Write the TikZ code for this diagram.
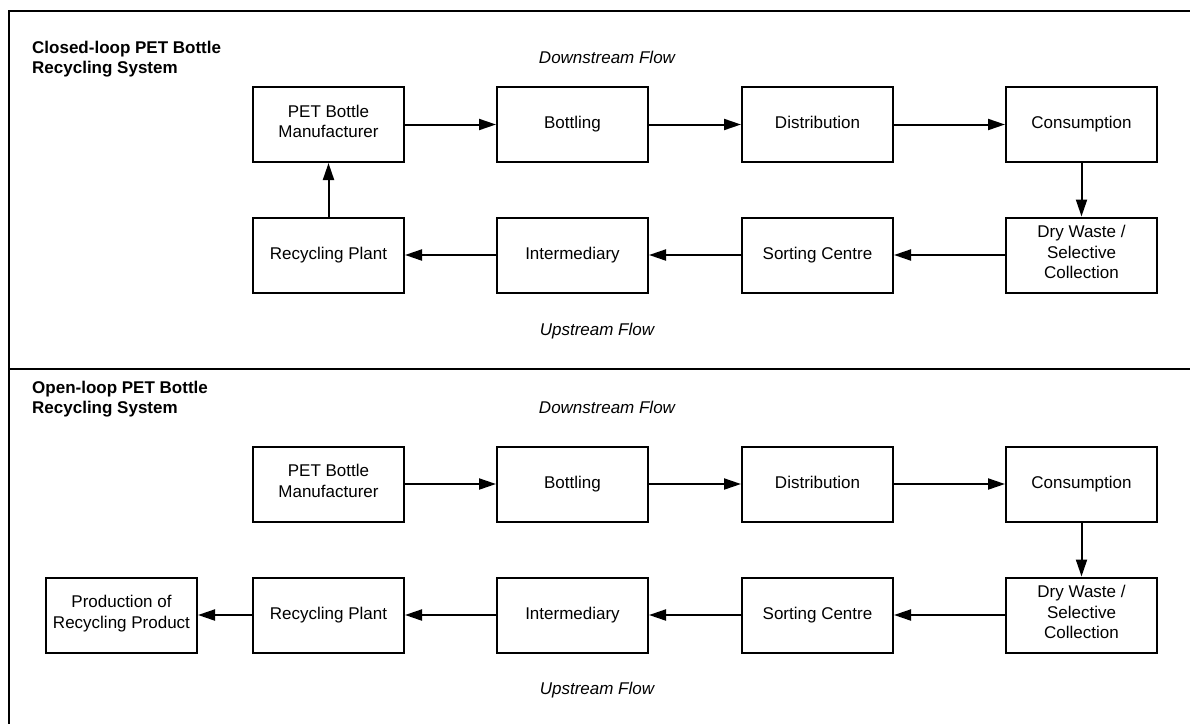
\documentclass[tikz,border=0pt]{standalone}
\usepackage{fontspec}
\setmainfont{Liberation Sans}
\usetikzlibrary{arrows.meta}
\tikzset{
  box/.style={draw, line width=2pt, minimum width=151pt, minimum height=75pt, inner sep=0pt, align=center, font=\fontsize{17}{20.5}\selectfont, execute at begin node=\strut},
  multi/.style={execute at begin node={\rule{0pt}{18.3pt}}},
  flow/.style={line width=2pt, -{Triangle[length=17pt,width=11pt]}},
  title/.style={anchor=west, align=left, inner sep=0pt, font=\fontsize{17}{20}\selectfont\bfseries},
  lbl/.style={inner sep=0pt, font=\fontsize{17}{20}\selectfont\itshape},
  frame/.style={line width=2pt}
}
\begin{document}
\begin{tikzpicture}[x=1pt,y=-1pt]
\useasboundingbox (0,0) rectangle (1190,723);
\clip (0,0) rectangle (1190,723);
% frame
\draw[frame] (1200,11) -- (9,11) -- (9,735);
\draw[frame] (9,369) -- (1200,369);

% closed loop
\node[title] (t1) at (32,59) {Closed-loop PET Bottle\\Recycling System};
\node[lbl] (d1) at (607,57) {Downstream Flow};
\node[lbl] (u1) at (597,331) {Upstream Flow};

\node[box,multi] (a1) at (328.5,124.5) {PET Bottle\\Manufacturer};
\node[box] (b1) at (572.5,124.5) {Bottling};
\node[box] (c1) at (817.5,124.5) {Distribution};
\node[box] (e1) at (1081.5,124.5) {Consumption};
\node[box,multi] (f1) at (1081.5,255) {Dry Waste /\\Selective\\Collection};
\node[box] (g1) at (817.5,255) {Sorting Centre};
\node[box] (h1) at (572.5,255) {Intermediary};
\node[box] (r1) at (328.5,255) {Recycling Plant};

\draw[flow] (a1) -- (b1);
\draw[flow] (b1) -- (c1);
\draw[flow] (c1) -- (e1);
\draw[flow] (e1) -- (f1);
\draw[flow] (f1) -- (g1);
\draw[flow] (g1) -- (h1);
\draw[flow] (h1) -- (r1);
\draw[flow] (r1) -- (a1);

% open loop
\node[title] (t2) at (32,399) {Open-loop PET Bottle\\Recycling System};
\node[lbl] (d2) at (607,407) {Downstream Flow};
\node[lbl] (u2) at (597,690) {Upstream Flow};

\node[box,multi] (a2) at (328.5,484) {PET Bottle\\Manufacturer};
\node[box] (b2) at (572.5,484) {Bottling};
\node[box] (c2) at (817.5,484) {Distribution};
\node[box] (e2) at (1081.5,484) {Consumption};
\node[box,multi] (f2) at (1081.5,615) {Dry Waste /\\Selective\\Collection};
\node[box] (g2) at (817.5,615) {Sorting Centre};
\node[box] (h2) at (572.5,615) {Intermediary};
\node[box] (r2) at (328.5,615) {Recycling Plant};
\node[box,multi] (p2) at (121.5,615) {Production of\\Recycling Product};

\draw[flow] (a2) -- (b2);
\draw[flow] (b2) -- (c2);
\draw[flow] (c2) -- (e2);
\draw[flow] (e2) -- (f2);
\draw[flow] (f2) -- (g2);
\draw[flow] (g2) -- (h2);
\draw[flow] (h2) -- (r2);
\draw[flow] (r2) -- (p2);
\end{tikzpicture}
\end{document}
